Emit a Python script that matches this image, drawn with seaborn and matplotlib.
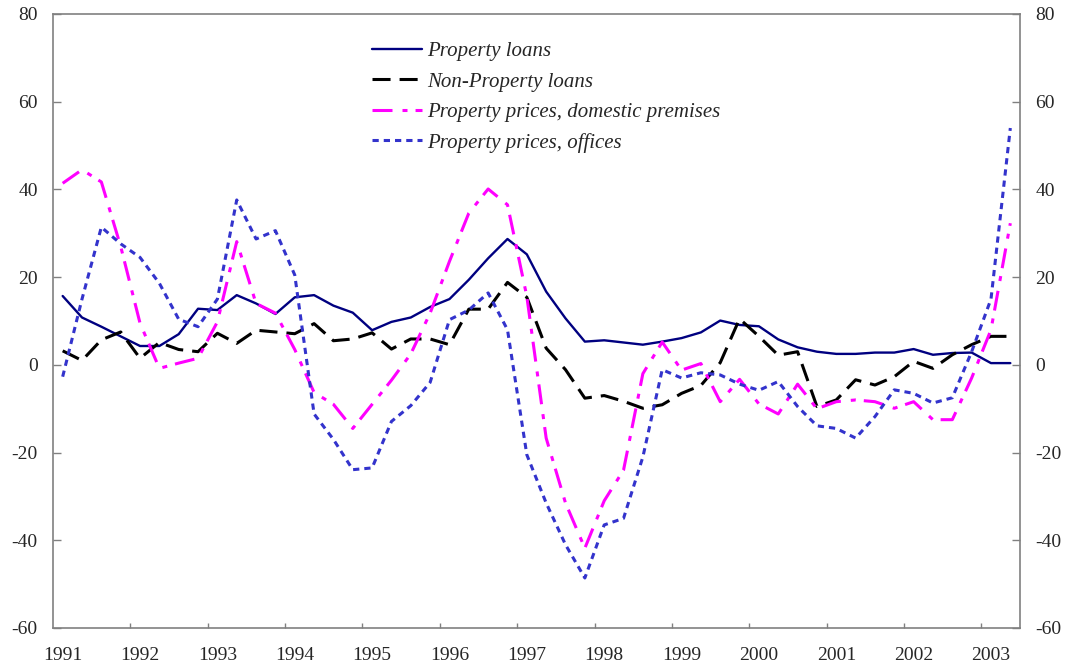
import numpy as np
import pandas as pd
import matplotlib
matplotlib.use("Agg")
import matplotlib.pyplot as plt
import seaborn as sns

# ---------------- data (quarterly, 1991Q1 - 2003Q2) ----------------
years = list(range(1991, 2004))
quarters = np.arange(50)

series_names = [
    "Property loans",
    "Non-Property loans",
    "Property prices, domestic premises",
    "Property prices, offices",
]

property_loans = [15.7, 10.8, 8.7, 6.5, 4.3, 4.3, 7.0, 12.8, 12.5, 15.9,
                  14.0, 11.6, 15.4, 15.9, 13.5, 11.9, 7.9, 9.8, 10.8, 13.2,
                  15.0, 19.4, 24.3, 28.7, 25.2, 16.7, 10.6, 5.3, 5.6, 5.1,
                  4.6, 5.3, 6.1, 7.4, 10.1, 9.1, 8.8, 5.8, 4.0, 3.0,
                  2.5, 2.5, 2.8, 2.8, 3.6, 2.3, 2.7, 2.8, 0.4, 0.4]

non_property_loans = [3.2, 1.0, 5.7, 7.5, 1.5, 5.1, 3.5, 3.0, 7.2, 4.9,
                      7.9, 7.5, 7.1, 9.4, 5.5, 5.9, 7.3, 3.6, 5.9, 5.9,
                      4.6, 12.7, 12.7, 18.8, 15.4, 3.8, -1.1, -7.6, -7.0, -8.3,
                      -9.9, -9.1, -6.5, -4.7, 0.5, 10.5, 6.5, 2.2, 3.0, -9.5,
                      -8.0, -3.4, -4.6, -2.7, 0.8, -0.8, 2.3, 4.6, 6.5, 6.5]

prices_domestic = [41.4, 44.5, 41.7, 27.0, 9.5, -0.8, 0.4, 1.5, 9.8, 28.1,
                   14.0, 11.8, 3.5, -6.3, -9.0, -14.5, -9.0, -3.5, 2.5, 11.8,
                   23.6, 34.6, 40.1, 36.5, 15.6, -16.7, -31.5, -41.8, -31.0, -24.0,
                   -2.0, 5.2, -1.2, 0.3, -8.4, -3.3, -8.9, -11.2, -4.4, -10.0,
                   -8.4, -8.0, -8.4, -9.9, -8.4, -12.5, -12.5, -3.0, 8.0, 32.3]

prices_offices = [-2.7, 15.0, 31.4, 27.6, 24.5, 18.6, 10.4, 8.7, 15.0, 37.6,
                  28.7, 30.6, 20.5, -11.2, -17.0, -23.9, -23.5, -12.9, -9.3, -4.0,
                  10.3, 12.5, 16.4, 8.0, -20.5, -31.5, -41.0, -48.6, -36.5, -35.0,
                  -21.0, -1.1, -3.0, -1.8, -2.3, -4.4, -5.8, -3.8, -9.5, -13.9,
                  -14.5, -16.7, -11.8, -5.7, -6.5, -8.7, -7.5, 3.0, 15.0, 54.0]

# ---------------- style ----------------
sns.set_style("white")
plt.rcParams["font.family"] = ["Liberation Serif", "DejaVu Serif"]
plt.rcParams["axes.unicode_minus"] = False
plt.rcParams["lines.scale_dashes"] = False

colors = ["#000080", "#000000", "#FF00FF", "#3333CC"]
widths = [1.7, 2.2, 2.2, 2.2]
dash_patterns = [None, (13, 6.5), (14.4, 7.2, 3.6, 5.8), (4.5, 3.6)]
all_values = [property_loans, non_property_loans, prices_domestic, prices_offices]

fig = plt.figure(figsize=(10.72, 6.66), dpi=100)
ax = fig.add_axes([53 / 1072, 38 / 666, (1020 - 53) / 1072, (628 - 14) / 666])

for name, vals, col, lw, dp in zip(series_names, all_values, colors, widths, dash_patterns):
    sns.lineplot(x=quarters, y=vals, ax=ax, color=col, linewidth=lw, label=name)
    line = ax.lines[-1]
    if dp is not None:
        line.set_dashes(dp)
    line.set_dash_capstyle("butt")

ax.set_xlim(-0.5, 49.5)
ax.set_ylim(-60, 80)
ax.set_xlabel("")
ax.set_ylabel("")

# x axis: ticks at year boundaries, labels at each year's first quarter
major_x = np.arange(3.5, 49, 4)
ax.set_xticks(major_x)
ax.set_xticklabels([""] * len(major_x))
ax.set_xticks(np.arange(0, 50, 4), labels=[str(y) for y in years], minor=True)
ax.tick_params(axis="x", which="major", direction="in", length=3.6, width=1.0,
               color="#808080", bottom=True)
ax.tick_params(axis="x", which="minor", length=0, labelsize=14, pad=14)

# y axis both sides
ax.set_yticks(np.arange(-60, 81, 20))
ax.tick_params(axis="y", which="major", direction="in", length=6, width=1.0,
               color="#808080", left=True, right=True, labelleft=True,
               labelright=True, labelsize=14, pad=11)

for side in ["left", "right", "bottom", "top"]:
    ax.spines[side].set_color("#808080")
    ax.spines[side].set_linewidth(1.2)
ax.grid(False)

ax.legend(loc="upper left", bbox_to_anchor=(0.33, 0.955), frameon=False,
          prop={"family": "Liberation Serif", "style": "italic", "size": 15},
          handlelength=2.4, handletextpad=0.25, labelspacing=0.52,
          borderaxespad=0, borderpad=0)

fig.savefig("out.png", dpi=100)
